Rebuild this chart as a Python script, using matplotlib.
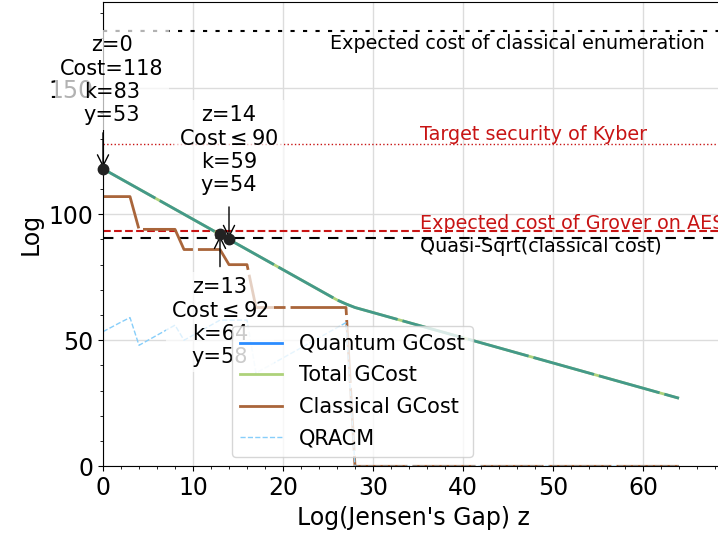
import matplotlib
matplotlib.use('Agg')
import matplotlib.pyplot as plt
from matplotlib.lines import Line2D
from matplotlib.ticker import MultipleLocator

# ---------------- data ----------------
z = list(range(0, 65))
total_gcost = [118, 116, 114, 112, 110, 108, 106, 104, 102, 100,
               98, 96, 94, 92, 90, 88, 86, 84, 82, 80,
               78, 76, 74, 72, 70, 68, 66, 64.4, 63] + [63 - i for i in range(1, 37)]
quantum_gcost = list(total_gcost)
classical_gcost = [107] * 4 + [94] * 5 + [86] * 5 + [80] * 3 + [63] * 11 + [0] * 37
qracm = [53.4, 55.3, 57.2, 59, 48, 50, 52, 54, 56, 50, 52, 54, 56, 58, 58, 58, 58,
         37, 39, 41, 43, 45, 47, 49, 51, 53, 55, 57] + [0] * 37

ref_values = [172.6, 128, 93.4, 90.7]
ref_labels = ["Expected cost of classical enumeration", "Target security of Kyber",
              "Expected cost of Grover on AES", "Quasi-Sqrt(classical cost)"]

ann_z = [0, 13, 14]
ann_cost = [118, 92, 90]
ann_k = [83, 64, 59]
ann_y = [53, 58, 54]

# ---------------- figure ----------------
fig = plt.figure(figsize=(7.18, 5.37), dpi=100)
ax = fig.add_axes([103 / 718, (537 - 466.3) / 537, 69 * 9 / 718, 464.3 / 537])

px = 0.72  # points per pixel at 100 dpi
lw_main = 2.0
dash_style = (3 * px / lw_main, (63 * px / lw_main, 5 * px / lw_main))

ax.plot(z, total_gcost, color='#aed27a', lw=lw_main, solid_capstyle='butt', zorder=2.0)
ax.plot(z, quantum_gcost, color='#44998a', lw=lw_main, linestyle=dash_style, zorder=2.1)
ax.plot(z, classical_gcost, color='#a9653a', lw=lw_main, linestyle=dash_style, zorder=2.0)
ax.plot(z, qracm, color='#87cefa', lw=1.0, linestyle='--', zorder=2.0)

# reference lines
ax.axhline(ref_values[0], color='black', lw=1.5, linestyle=(0, (2, 4)), zorder=1.8)
ax.axhline(ref_values[1], color='#c81414', lw=1.0, linestyle=':', zorder=1.8)
ax.axhline(ref_values[2], color='#c81414', lw=1.5, linestyle='--', zorder=1.8)
ax.axhline(ref_values[3], color='black', lw=1.5, linestyle=(0, (5, 4)), zorder=1.8)

ax.text(25.2, ref_values[0] - 1.2, ref_labels[0], fontsize=13.8, color='black', va='top', ha='left')
ax.text(35.2, ref_values[1] + 1.3, ref_labels[1], fontsize=13.8, color='#c81414', va='baseline', ha='left')
ax.text(35.2, ref_values[2] + 0.8, ref_labels[2], fontsize=13.8, color='#c81414', va='baseline', ha='left')
ax.text(35.2, ref_values[3] + 0.3, ref_labels[3], fontsize=13.8, color='black', va='top', ha='left')

# annotations
text_offsets = [(1.0, 35.2), (0.0, -34.8), (0.0, 35.4)]
arrow_offsets = [14.3, -12.8, 12.9]
for i in range(len(ann_z)):
    zz, cc = ann_z[i], ann_cost[i]
    if i == 0:
        s = f"z={zz}\nCost={cc}\nk={ann_k[i]}\ny={ann_y[i]}"
    else:
        s = f"z={zz}\nCost$\\leq${cc}\nk={ann_k[i]}\ny={ann_y[i]}"
    dx, dy = text_offsets[i]
    ax.text(zz + dx, cc + dy, s, fontsize=15, ha='center', va='center', multialignment='center',
            bbox=dict(boxstyle='square,pad=0.25', fc='white', ec='none', alpha=0.7), zorder=3,
            clip_on=False)
    ax.annotate('', xy=(zz, cc), xytext=(zz, cc + arrow_offsets[i]),
                arrowprops=dict(arrowstyle='->', color='black', lw=1.0, shrinkA=0, shrinkB=1,
                                mutation_scale=20),
                zorder=3.5, annotation_clip=False)
ax.plot(ann_z, ann_cost, 'o', color='#222222', ms=7.5, zorder=4, clip_on=False)

ax.set_xlim(0, 69)
ax.set_ylim(0, 184.2)
ax.xaxis.set_major_locator(MultipleLocator(10))
ax.xaxis.set_minor_locator(MultipleLocator(2))
ax.yaxis.set_major_locator(MultipleLocator(50))
ax.yaxis.set_minor_locator(MultipleLocator(10))
ax.tick_params(axis='both', which='major', labelsize=17)
ax.grid(True, which='major', color='#dcdcdc', lw=1.0)
ax.set_xlabel("Log(Jensen's Gap) z", fontsize=17)
ax.set_ylabel("Log", fontsize=17)

handles = [Line2D([], [], color='#2b8cff', lw=lw_main),
           Line2D([], [], color='#aed27a', lw=lw_main),
           Line2D([], [], color='#a9653a', lw=lw_main),
           Line2D([], [], color='#87cefa', lw=1.0, linestyle='--')]
labels = ["Quantum GCost", "Total GCost", "Classical GCost", "QRACM"]
leg = ax.legend(handles, labels, loc='lower left', bbox_to_anchor=(129 / 621, 9.6 / 464.3),
                borderaxespad=0, fontsize=15, labelspacing=0.55)
leg.set_zorder(5)

fig.savefig('out.png', dpi=100)
